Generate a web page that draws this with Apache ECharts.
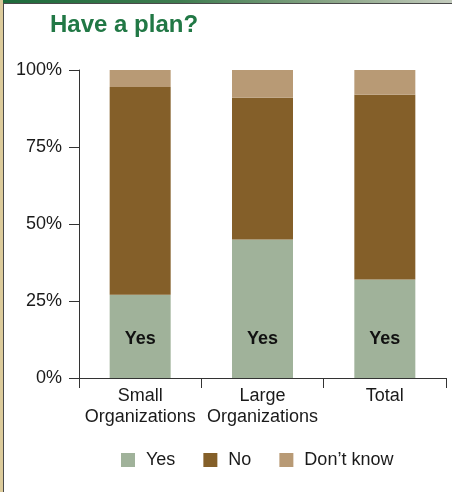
<!DOCTYPE html>
<html>
<head>
<meta charset="utf-8">
<title>Have a plan?</title>
<script src="https://cdn.jsdelivr.net/npm/echarts@6/dist/echarts.min.js"></script>
<style>
  html, body { margin: 0; padding: 0; background: #ffffff; }
  #wrap { position: relative; width: 452px; height: 492px; overflow: hidden; }
  #chart { position: absolute; left: 0; top: 0; width: 452px; height: 492px; }
  /* page furniture: green rule along the top, tan strip down the left */
  #topbar { position: absolute; left: 0; top: 0; width: 452px; height: 3px;
            background: linear-gradient(to right, #1d6a3b 0%, #3f7d50 40%, #8ea88a 75%, #c3cbbd 100%); }
  #topline { position: absolute; left: 3px; top: 3px; width: 449px; height: 1px; background: #4a4a4a; }
  #leftbar { position: absolute; left: 0; top: 0; width: 3px; height: 492px; background: #dccb9b; }
  #leftline { position: absolute; left: 3px; top: 3px; width: 1px; height: 489px; background: #4a4a4a; }
</style>
</head>
<body>
<div id="wrap">
  <div id="chart"></div>
  <div id="topbar"></div>
  <div id="topline"></div>
  <div id="leftbar"></div>
  <div id="leftline"></div>
</div>
<script>
// Survey responses, percent of respondents in each group
const categories = ['Small\nOrganizations', 'Large\nOrganizations', 'Total'];
const yesValues = [27, 45, 32];
const noValues = [67.5, 46, 60];
const dontKnowValues = [5.5, 9, 8];
const yTicks = [0, 25, 50, 75, 100];

const FONT = "'Liberation Sans', Arial, Helvetica, sans-serif";
const chart = echarts.init(document.getElementById('chart'), null, { renderer: 'canvas' });

function barSeries(name, data, color, extra) {
  return Object.assign({
    name: name,
    type: 'bar',
    stack: 'total',
    barWidth: 61,
    data: data,
    itemStyle: { color: color },
    emphasis: { disabled: true }
  }, extra || {});
}

chart.setOption({
  animation: false,
  title: {
    text: 'Have a plan?',
    left: 45,
    top: 8,
    textStyle: { fontFamily: FONT, fontSize: 24, fontWeight: 'bold', color: '#217845' }
  },
  legend: {
    left: 116,
    top: 446,
    itemWidth: 14,
    itemHeight: 14,
    itemGap: 28,
    icon: 'rect',
    data: ['Yes', 'No', 'Don\u2019t know'],
    textStyle: { fontFamily: FONT, fontSize: 18, color: '#1a1a1a', padding: [0, 0, 0, 6] }
  },
  grid: { left: 79, right: 6, top: 70, bottom: 114, containLabel: false },
  xAxis: {
    type: 'category',
    data: categories,
    axisLine: { lineStyle: { color: '#333333', width: 1 } },
    axisTick: { show: true, length: 10, inside: false, lineStyle: { color: '#333333' } },
    axisLabel: { fontFamily: FONT, fontSize: 18, color: '#1a1a1a', margin: 8, lineHeight: 21, interval: 0 },
    splitLine: { show: false }
  },
  yAxis: {
    type: 'value',
    min: 0,
    max: 100,
    interval: 25,
    axisLine: { show: true, lineStyle: { color: '#333333', width: 1 } },
    axisTick: { show: true, length: 10, lineStyle: { color: '#333333' } },
    axisLabel: {
      fontFamily: FONT, fontSize: 18, color: '#1a1a1a', margin: 17,
      formatter: function (v) { return yTicks.indexOf(v) >= 0 ? v + '%' : ''; }
    },
    splitLine: { show: false }
  },
  series: [
    barSeries('Yes', yesValues, '#a0b29a', {
      label: {
        show: true,
        position: 'insideBottom',
        distance: 30,
        formatter: 'Yes',
        fontFamily: FONT,
        fontSize: 18,
        fontWeight: 'bold',
        color: '#111111'
      }
    }),
    barSeries('No', noValues, '#845f29'),
    barSeries('Don\u2019t know', dontKnowValues, '#b89a75')
  ]
});
</script>
</body>
</html>
